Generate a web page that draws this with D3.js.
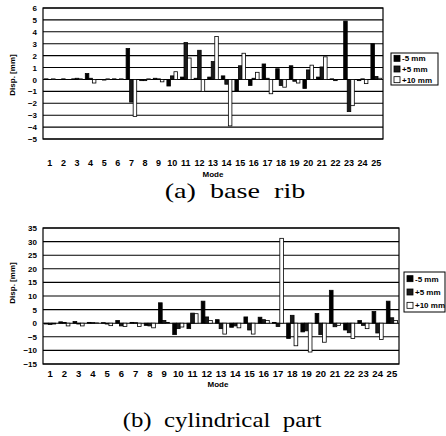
<!DOCTYPE html>
<html lang="en">
  <head>
    <meta charset="utf-8">
    <title>Mode displacement - base rib and cylindrical part</title>
    <script src="https://d3js.org/d3.v7.min.js"></script>
    <style>
      body { margin: 0; background: #fff; }
      text { font-family: "Liberation Sans", Arial, sans-serif; }
      .title { font-family: "Liberation Serif", "Times New Roman", serif; white-space: pre; }
    </style>
  </head>
  <body>
    <div id="chart"></div>
    <script>
      // mode numbers on the x axis
      var modes = d3.range(1, 26);
      var seriesNames = ["-5 mm", "+5 mm", "+10 mm"];

      // (a) base rib, displacement in mm
      var ribMinus5 = [0.05, 0.0, 0.05, 0.5, 0.0, 0.05, 2.6, -0.1, 0.1, -0.55, 0.2, 0.1, 0.2, 0.3, -1.0, -0.5, 1.3, 0.9, 1.15, -0.75, 0.2, 0.05, 4.9, -0.1, 3.0];
      var ribPlus5 = [0.0, 0.05, 0.1, 0.1, -0.05, 0.0, -1.9, -0.1, 0.05, 0.3, 3.1, 2.45, 1.5, -0.4, 1.15, 0.1, 0.1, -0.5, -0.15, 0.8, 1.05, -0.1, -2.7, 0.05, 0.25];
      var ribPlus10 = [0.05, 0.0, 0.05, -0.3, 0.05, 0.05, -3.1, 0.05, -0.2, 0.65, 1.8, -1.0, 3.6, -3.9, 2.2, 0.6, -1.2, -0.65, -0.3, 1.2, 1.9, 0.0, -2.2, -0.35, 0.1];
      var ribTicks = d3.range(-5, 7);

      // (b) cylindrical part, displacement in mm
      var cylMinus5 = [-0.3, 0.5, 0.6, 0.3, 0.2, 1.0, 0.3, -0.8, 7.5, -4.2, -2.0, 8.1, 1.3, -1.5, 2.3, 2.2, 0.3, -5.6, -3.2, 3.6, 12.1, -2.5, 1.0, 4.3, 8.1];
      var cylPlus5 = [-0.5, 0.3, -0.3, 0.2, -0.3, -1.0, 0.2, -1.0, 1.0, -2.0, 3.7, 2.3, -2.0, -1.0, -2.5, 1.3, -1.2, 2.9, -2.8, -4.2, -1.3, -3.5, -0.8, -3.6, 2.0];
      var cylPlus10 = [-0.3, -1.0, -1.0, 0.1, -0.9, -1.2, -1.2, -1.7, 0.3, -1.4, 3.5, 1.0, -4.0, -1.7, -4.0, 1.0, 31.2, -8.3, -10.6, -7.0, -0.8, -5.6, -2.0, -6.0, 1.0];
      var cylTicks = d3.range(-15, 40, 5);

      var FILLS = ["#000", "#1a1a1a", "#fff"];

      var svg = d3.select("#chart")
        .append("svg")
          .attr("width", 446)
          .attr("height", 436);

      function drawChart(cfg) {
        var g = svg.append("g");

        var xScale = d3.scaleBand()
          .domain(modes)
          .range([cfg.left, cfg.right])
          .paddingInner(0.22)
          .paddingOuter(0.11);

        var subScale = d3.scaleBand()
          .domain([0, 1, 2])
          .range([0, xScale.bandwidth()]);

        var yScale = d3.scaleLinear()
          .domain(cfg.domain)
          .range([cfg.bottom, cfg.top]);

        // gridlines
        g.selectAll("line.grid")
          .data(cfg.ticks)
          .enter().append("line")
            .attr("class", "grid")
            .attr("x1", cfg.left)
            .attr("x2", cfg.right)
            .attr("y1", function(d) { return yScale(d); })
            .attr("y2", function(d) { return yScale(d); })
            .attr("stroke", "#000")
            .attr("stroke-width", 1.1);

        // bars
        var rows = [];
        cfg.series.forEach(function(vals, s) {
          vals.forEach(function(v, i) {
            rows.push({mode: modes[i], s: s, v: v});
          });
        });

        g.selectAll("rect.bar")
          .data(rows)
          .enter().append("rect")
            .attr("class", "bar")
            .attr("x", function(d) { return xScale(d.mode) + subScale(d.s); })
            .attr("width", subScale.bandwidth())
            .attr("y", function(d) { return yScale(Math.max(0, d.v)); })
            .attr("height", function(d) { return Math.abs(yScale(d.v) - yScale(0)); })
            .attr("fill", function(d) { return FILLS[d.s]; })
            .attr("stroke", "#000")
            .attr("stroke-width", 0.8);

        // plot frame
        g.append("rect")
          .attr("x", cfg.left)
          .attr("y", cfg.top)
          .attr("width", cfg.right - cfg.left)
          .attr("height", cfg.bottom - cfg.top)
          .attr("fill", "none")
          .attr("stroke", "#000")
          .attr("stroke-width", 1.2);

        // y axis labels
        var yAxis = d3.axisLeft(yScale).tickValues(cfg.ticks).tickSize(0).tickPadding(6);
        var ya = g.append("g")
          .attr("transform", "translate(" + cfg.left + ",0)")
          .call(yAxis);
        ya.select(".domain").remove();
        ya.selectAll("text")
          .attr("font-size", 8)
          .attr("font-weight", "bold")
          .attr("font-family", "Liberation Sans, Arial, sans-serif");

        // x axis labels
        var xAxis = d3.axisBottom(xScale).tickSize(0).tickPadding(0);
        var xa = g.append("g")
          .attr("transform", "translate(0," + cfg.xLabelY + ")")
          .call(xAxis);
        xa.select(".domain").remove();
        xa.selectAll("text")
          .attr("font-size", cfg.xFont)
          .attr("font-weight", "bold")
          .attr("font-family", "Liberation Sans, Arial, sans-serif");

        g.append("text")
          .text("Mode")
          .attr("x", cfg.modeX)
          .attr("y", cfg.modeY)
          .attr("text-anchor", "middle")
          .attr("font-size", 8)
          .attr("font-weight", "bold");

        g.append("text")
          .text("Disp. [mm]")
          .attr("transform", "translate(" + cfg.yTitleX + "," + cfg.yTitleY + ") rotate(-90)")
          .attr("text-anchor", "middle")
          .attr("font-size", 8)
          .attr("font-weight", "bold");

        // legend
        var lg = g.append("g");
        lg.append("rect")
          .attr("x", cfg.legend.x)
          .attr("y", cfg.legend.y)
          .attr("width", cfg.legend.w)
          .attr("height", cfg.legend.h)
          .attr("fill", "#fff")
          .attr("stroke", "#000")
          .attr("stroke-width", 1);
        seriesNames.forEach(function(name, s) {
          var yy = cfg.legend.y + cfg.legend.h * (s + 0.5) / 3;
          lg.append("rect")
            .attr("x", cfg.legend.x + 3)
            .attr("y", yy - 3)
            .attr("width", 6)
            .attr("height", 6)
            .attr("fill", FILLS[s])
            .attr("stroke", "#000")
            .attr("stroke-width", 0.8);
          lg.append("text")
            .text(name)
            .attr("x", cfg.legend.x + 11)
            .attr("y", yy + 3)
            .attr("font-size", 8)
            .attr("font-weight", "bold");
        });

        // caption, a little stretched sideways like the scanned original
        g.append("text")
          .attr("class", "title")
          .text(cfg.title)
          .attr("transform", "translate(" + cfg.titleX + "," + cfg.titleY + ") scale(" + cfg.titleStretch + ",1)")
          .attr("text-anchor", "middle")
          .attr("font-size", 22);
      }

      drawChart({
        series: [ribMinus5, ribPlus5, ribPlus10],
        ticks: ribTicks,
        domain: [-5, 6],
        left: 43, right: 383, top: 8, bottom: 139,
        xLabelY: 160, xFont: 9, modeX: 213, modeY: 177,
        yTitleX: 15, yTitleY: 75,
        legend: {x: 391, y: 53, w: 47, h: 32},
        title: "(a)  base  rib", titleX: 235, titleY: 198, titleStretch: 1.28
      });

      drawChart({
        series: [cylMinus5, cylPlus5, cylPlus10],
        ticks: cylTicks,
        domain: [-15, 35],
        left: 43, right: 399, top: 228, bottom: 364,
        xLabelY: 370, xFont: 9.5, modeX: 218, modeY: 387,
        yTitleX: 15, yTitleY: 283,
        legend: {x: 404, y: 272, w: 41, h: 40},
        title: "(b)  cylindrical  part", titleX: 222, titleY: 427, titleStretch: 1.13
      });
    </script>
  </body>
</html>
